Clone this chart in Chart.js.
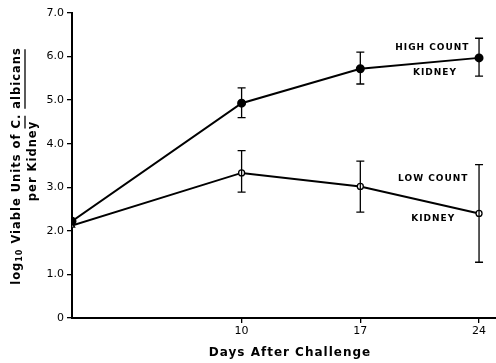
<!DOCTYPE html>
<html lang="en">
<head>
  <meta charset="UTF-8">
  <title>Viable Units of C. albicans per Kidney</title>
  <script src="https://cdn.jsdelivr.net/npm/chart.js"></script>
  <style>
    body {
      margin: 0;
      background: #fff;
    }
    #wrap {
      width: 496px;
      height: 363px;
    }
  </style>
</head>
<body>
  <div id="wrap">
    <canvas id="chart" width="496" height="363"></canvas>
  </div>

  <script>
    // dados
    const days = [0, 10, 17, 24];
    const xTicks = [10, 17, 24];

    const highCount = [2.22, 4.93, 5.72, 5.97];
    const highLow = [null, 4.6, 5.37, 5.55];
    const highHigh = [null, 5.28, 6.1, 6.42];

    const lowCount = [2.12, 3.33, 3.02, 2.4];
    const lowLow = [null, 2.89, 2.43, 1.28];
    const lowHigh = [null, 3.84, 3.6, 3.52];

    const font = '"DejaVu Sans", sans-serif';

    // barras de erro desenhadas pelas escalas
    const errorBars = {
      id: 'errorBars',
      afterDatasetsDraw(chart) {
        const ctx = chart.ctx;
        const xs = chart.scales.x;
        const ys = chart.scales.y;
        ctx.save();
        ctx.strokeStyle = '#000';
        ctx.lineWidth = 1.3;
        chart.data.datasets.forEach(ds => {
          ds.data.forEach((p, i) => {
            if (ds.errLow[i] == null) return;
            const x = xs.getPixelForValue(p.x);
            const y1 = ys.getPixelForValue(ds.errLow[i]);
            const y2 = ys.getPixelForValue(ds.errHigh[i]);
            ctx.beginPath();
            ctx.moveTo(x, y1);
            ctx.lineTo(x, y2);
            ctx.moveTo(x - 4, y1);
            ctx.lineTo(x + 4, y1);
            ctx.moveTo(x - 4, y2);
            ctx.lineTo(x + 4, y2);
            ctx.stroke();
          });
        });
        ctx.restore();
      }
    };

    // textos: rótulos das curvas e títulos dos eixos
    const labels = {
      id: 'labels',
      afterDraw(chart) {
        const ctx = chart.ctx;
        const xs = chart.scales.x;
        const ys = chart.scales.y;
        ctx.save();
        ctx.fillStyle = '#000';
        ctx.textAlign = 'center';
        ctx.textBaseline = 'middle';
        ctx.letterSpacing = '1px';
        ctx.font = 'bold 9px ' + font;
        ctx.fillText('HIGH COUNT', xs.getPixelForValue(21.25), ys.getPixelForValue(6.2));
        ctx.fillText('KIDNEY', xs.getPixelForValue(21.4), ys.getPixelForValue(5.62));
        ctx.fillText('LOW COUNT', xs.getPixelForValue(21.3), ys.getPixelForValue(3.19));
        ctx.fillText('KIDNEY', xs.getPixelForValue(21.3), ys.getPixelForValue(2.29));

        // título do eixo x
        ctx.font = 'bold 12px ' + font;
        ctx.fillText('Days After Challenge', 290, 353);

        // título do eixo y (rotacionado)
        ctx.translate(17, 166);
        ctx.rotate(-Math.PI / 2);
        ctx.textAlign = 'left';
        const parts = [
          { t: 'log', size: 11.5, dy: 0 },
          { t: '10', size: 8, dy: 3 },
          { t: ' Viable Units of ', size: 11.5, dy: 0 },
          { t: 'C.', size: 11.5, dy: 0, u: true },
          { t: ' ', size: 11.5, dy: 0 },
          { t: 'albicans', size: 11.5, dy: 0, u: true }
        ];
        let total = 0;
        parts.forEach(p => {
          ctx.font = 'bold ' + p.size + 'px ' + font;
          p.w = ctx.measureText(p.t).width;
          total += p.w;
        });
        let x = -total / 2;
        ctx.lineWidth = 1.3;
        parts.forEach(p => {
          ctx.font = 'bold ' + p.size + 'px ' + font;
          ctx.fillText(p.t, x, p.dy);
          if (p.u) {
            ctx.beginPath();
            ctx.moveTo(x, 8);
            ctx.lineTo(x + p.w - 2, 8);
            ctx.stroke();
          }
          x += p.w;
        });
        ctx.textAlign = 'center';
        ctx.font = 'bold 11.5px ' + font;
        ctx.fillText('per Kidney', 5, 16);
        ctx.restore();
      }
    };

    const toPoints = arr => arr.map((v, i) => ({ x: days[i], y: v }));

    new Chart(document.getElementById('chart'), {
      type: 'line',
      data: {
        datasets: [{
          label: 'High count kidney',
          data: toPoints(highCount),
          errLow: highLow,
          errHigh: highHigh,
          borderColor: '#000',
          borderWidth: 2,
          backgroundColor: '#000',
          pointStyle: 'circle',
          pointRadius: 3.5,
          pointBorderColor: '#000',
          pointBackgroundColor: '#000'
        }, {
          label: 'Low count kidney',
          data: toPoints(lowCount),
          errLow: lowLow,
          errHigh: lowHigh,
          borderColor: '#000',
          borderWidth: 2,
          backgroundColor: '#fff',
          pointStyle: ['triangle', 'circle', 'circle', 'circle'],
          pointRadius: 3,
          pointBorderWidth: 1.3,
          pointBorderColor: '#000',
          pointBackgroundColor: '#fff'
        }]
      },
      options: {
        responsive: false,
        animation: false,
        layout: { autoPadding: false, padding: { top: 13, right: 0, left: 0, bottom: 0 } },
        plugins: {
          legend: { display: false },
          tooltip: { enabled: false }
        },
        scales: {
          x: {
            type: 'linear',
            min: 0,
            max: 25,
            afterBuildTicks: s => { s.ticks = xTicks.map(v => ({ value: v })); },
            afterFit: s => { s.height = 45; s.paddingRight = 0; s.paddingLeft = 0; },
            grid: { drawOnChartArea: false, drawTicks: true, tickLength: 5, color: '#000', lineWidth: 1.3 },
            border: { color: '#000', width: 2 },
            ticks: {
              color: '#000',
              padding: 2,
              maxRotation: 0,
              font: { family: font, size: 11 },
              callback: v => String(v)
            }
          },
          y: {
            min: 0,
            max: 7,
            afterFit: s => { s.width = 72; },
            grid: { drawOnChartArea: false, drawTicks: true, tickLength: 5, color: '#000', lineWidth: 1.3 },
            border: { color: '#000', width: 2 },
            ticks: {
              stepSize: 1,
              color: '#000',
              padding: 3,
              font: { family: font, size: 11 },
              callback: v => v === 0 ? '0' : v.toFixed(1)
            }
          }
        }
      },
      plugins: [errorBars, labels]
    });
  </script>
</body>
</html>
